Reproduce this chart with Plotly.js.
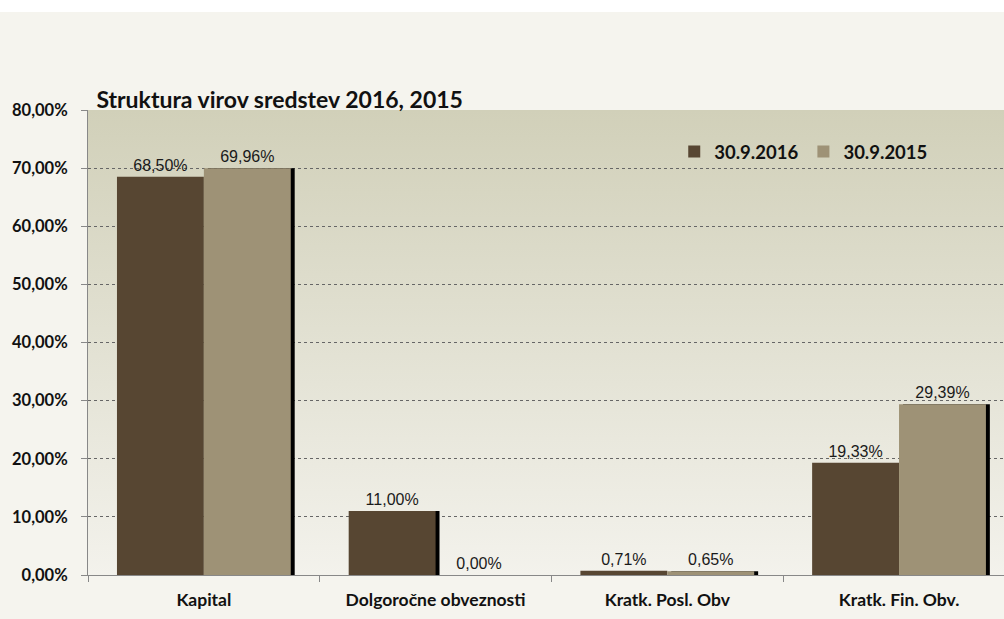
<!DOCTYPE html>
<html>
<head>
<meta charset="utf-8">
<script src="https://cdn.plot.ly/plotly-3.0.1.min.js"></script>
<style>
html,body{margin:0;padding:0;background:#ffffff;}
#chart{position:absolute;left:0;top:12px;width:1004px;height:607px;}
</style>
</head>
<body>
<div id="chart"></div>
<script>
const categories = ['Kapital', 'Dolgoročne obveznosti', 'Kratk. Posl. Obv', 'Kratk. Fin. Obv.'];
const series2016 = [68.50, 11.00, 0.71, 19.33];
const series2015 = [69.96, 0.00, 0.65, 29.39];
const seriesNames = ['30.9.2016', '30.9.2015'];
const yTicks = [0, 10, 20, 30, 40, 50, 60, 70, 80];
const yTickLabels = yTicks.map(v => v.toFixed(2).replace('.', ',') + '%');

const darkColor = '#574632';
const lightColor = '#9e9276';
const W = 0.375;

// shadow behind the right-most visible bar of each group
const shadowY = categories.map((c, i) => series2015[i] > 0 ? series2015[i] : series2016[i]);
const shadowOffset = categories.map((c, i) => series2015[i] > 0 ? 0.017 : -W + 0.017);

const labelFont = {family: 'Liberation Sans, Arial, sans-serif', size: 16, color: '#1a1a1a'};
const boldFont = 'Lato, Carlito, sans-serif';

const traces = [
  {
    type: 'bar', x: categories, y: shadowY, offset: shadowOffset, width: W,
    marker: {color: '#000000'}, showlegend: false, hoverinfo: 'skip'
  },
  {
    type: 'bar', name: seriesNames[0], x: categories, y: series2016, offset: -W, width: W,
    marker: {color: darkColor},
    texttemplate: '%{y:.2f}%', textposition: 'outside', cliponaxis: false,
    textfont: labelFont
  },
  {
    type: 'bar', name: seriesNames[1], x: categories, y: series2015, offset: 0, width: W,
    marker: {color: lightColor},
    texttemplate: '%{y:.2f}%', textposition: 'outside', cliponaxis: false,
    textfont: labelFont
  }
];

const gradSvg = '<svg xmlns="http://www.w3.org/2000/svg" width="100" height="100" preserveAspectRatio="none">' +
  '<defs><linearGradient id="g" x1="0" y1="0" x2="0" y2="1">' +
  '<stop offset="0" stop-color="#d1d0b9"/><stop offset="1" stop-color="#f3f2ec"/>' +
  '</linearGradient></defs><rect width="100" height="100" fill="url(#g)"/></svg>';

const layout = {
  width: 1004, height: 607,
  margin: {l: 88, r: 0, t: 98, b: 44},
  paper_bgcolor: '#f5f4ee',
  plot_bgcolor: 'rgba(0,0,0,0)',
  separators: ',.',
  barmode: 'overlay',
  title: {
    text: 'Struktura virov sredstev 2016, 2015',
    font: {family: boldFont, size: 23, color: '#111111', weight: 'bold'},
    xref: 'container', yref: 'container', x: 0.096, xanchor: 'left', y: 0.855, yanchor: 'middle'
  },
  xaxis: {
    type: 'category', range: [-0.5, 3.453],
    tickson: 'boundaries', ticks: 'outside', ticklen: 6, tickcolor: '#888888',
    showgrid: false, showline: true, linecolor: '#888888', linewidth: 1,
    tickfont: {family: boldFont, size: 17.5, color: '#111111', weight: 'bold'},
    ticklabelstandoff: 9
  },
  yaxis: {
    range: [0, 80], tickmode: 'array', tickvals: yTicks, ticktext: yTickLabels,
    ticks: 'outside', ticklen: 6, tickcolor: '#888888',
    showgrid: true, gridcolor: '#666666', griddash: 'dot', gridwidth: 1,
    showline: true, linecolor: '#888888', linewidth: 1, zeroline: false,
    tickfont: {family: boldFont, size: 16.5, color: '#111111', weight: 'bold'},
    ticklabelstandoff: 10
  },
  legend: {
    orientation: 'h', x: 0.640, xanchor: 'left', y: 0.91, yanchor: 'middle',
    bgcolor: 'rgba(0,0,0,0)',
    font: {family: boldFont, size: 18.5, color: '#111111', weight: 'bold'},
    itemwidth: 30, traceorder: 'normal'
  },
  images: [{
    source: 'data:image/svg+xml;charset=utf-8,' + encodeURIComponent(gradSvg),
    xref: 'paper', yref: 'paper', x: 0, y: 1, sizex: 1, sizey: 1,
    sizing: 'stretch', layer: 'below', xanchor: 'left', yanchor: 'top'
  }],
  showlegend: true
};

Plotly.newPlot('chart', traces, layout, {displayModeBar: false, staticPlot: true});
</script>
</body>
</html>
